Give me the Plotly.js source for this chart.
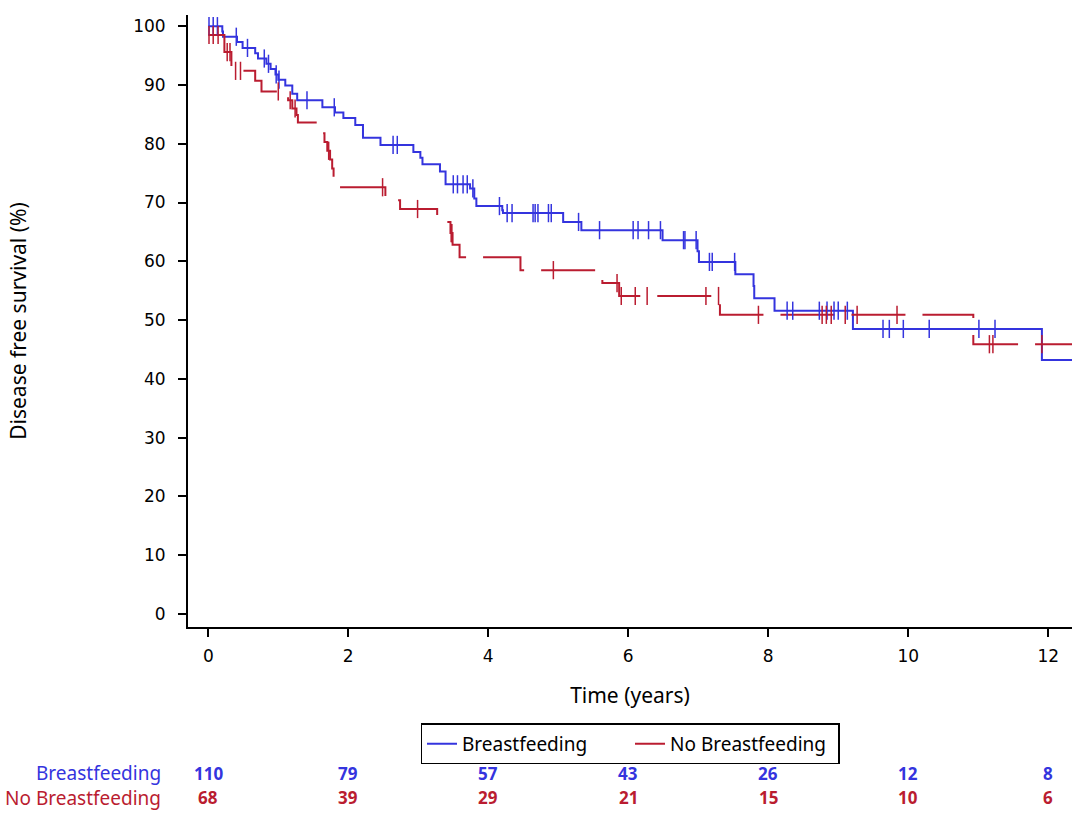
<!DOCTYPE html>
<html>
<head>
<meta charset="utf-8">
<script src="https://cdn.plot.ly/plotly-3.0.1.min.js"></script>
<style>
  html, body { margin: 0; padding: 0; background: #fff; }
  #chart { width: 1080px; height: 840px; }
</style>
</head>
<body>
<div id="chart"></div>
<script>
// Kaplan-Meier steps (time in years, survival in %)
var bfTimes = [0, 0.2, 0.21, 0.41, 0.49, 0.67, 0.71, 0.83, 0.89, 0.96, 1.0, 1.1, 1.2, 1.27, 1.63, 1.81, 1.93, 2.1, 2.21, 2.46, 2.93, 3.03, 3.06, 3.31, 3.39, 3.74, 3.8, 3.83, 4.2, 4.21, 5.07, 5.33, 6.49, 6.99, 7.01, 7.53, 7.79, 7.8, 8.09, 9.21, 11.91, 12.34];
var bfSurv  = [100, 99.1, 98.2, 97.3, 96.3, 95.4, 94.5, 93.6, 92.7, 91.8, 90.9, 89.9, 88.5, 87.4, 86.2, 85.3, 84.4, 83.2, 81.0, 79.8, 78.6, 77.6, 76.5, 75.3, 73.1, 72.4, 70.7, 69.4, 68.7, 68.2, 66.7, 65.3, 63.6, 61.7, 59.9, 57.8, 55.8, 53.7, 51.6, 48.5, 43.2, 43.2];
var bfCensor = [0.01, 0.07, 0.13, 0.4, 0.56, 0.8, 0.86, 0.97, 1.01, 1.41, 1.8, 2.64, 2.7, 3.5, 3.56, 3.64, 3.7, 3.78, 4.16, 4.27, 4.34, 4.64, 4.67, 4.71, 4.86, 4.9, 5.29, 5.59, 6.07, 6.14, 6.29, 6.46, 6.79, 6.81, 6.97, 7.16, 7.2, 7.52, 8.27, 8.35, 8.73, 8.84, 8.94, 9.0, 9.13, 9.64, 9.73, 9.93, 10.3, 11.01, 11.24];

var nbTimes = [0, 0.23, 0.33, 0.67, 0.76, 1.14, 1.2, 1.26, 1.28, 1.6, 1.66, 1.7, 1.74, 1.77, 1.79, 1.85, 2.53, 2.74, 3.27, 3.46, 3.49, 3.59, 4.46, 5.63, 5.87, 7.31, 10.93, 12.34];
var nbSurv  = [98.5, 95.6, 92.4, 90.7, 88.9, 87.4, 86.0, 84.9, 83.6, 81.8, 80.3, 78.8, 77.3, 75.8, 74.3, 72.6, 70.4, 68.9, 66.7, 64.8, 62.8, 60.7, 58.5, 56.3, 54.1, 50.9, 45.9, 45.9];
var nbCensor = [0.01, 0.07, 0.14, 0.27, 0.31, 0.39, 0.46, 1.0, 1.17, 1.24, 1.72, 2.49, 2.99, 3.47, 3.48, 4.93, 5.84, 5.9, 6.1, 6.27, 7.11, 7.29, 7.86, 8.77, 8.83, 8.9, 9.1, 9.27, 9.84, 11.16, 11.21, 11.91];

// numbers at risk
var riskTimes = [0, 2, 4, 6, 8, 10, 12];
var riskBF = [110, 79, 57, 43, 26, 12, 8];
var riskNoBF = [68, 39, 29, 21, 15, 10, 6];

var groupNames = ["Breastfeeding", "No Breastfeeding"];
var blue = "rgb(52,52,222)";
var red = "rgb(186,28,48)";

// survival value of a step curve at time t
function stepAt(times, surv, t) {
  var s = surv[0];
  for (var i = 0; i < times.length; i++) {
    if (times[i] <= t) s = surv[i];
  }
  return s;
}

function censorY(times, surv, cens) {
  return cens.map(function (t) { return stepAt(times, surv, t); });
}

var data = [
  {
    x: bfTimes, y: bfSurv, name: groupNames[0], type: "scatter", mode: "lines",
    line: { shape: "hv", color: blue, width: 2 }
  },
  {
    x: nbTimes, y: nbSurv, name: groupNames[1], type: "scatter", mode: "lines",
    line: { shape: "hv", color: red, width: 2, dash: "54px,17px" }
  },
  {
    x: bfCensor, y: censorY(bfTimes, bfSurv, bfCensor), type: "scatter", mode: "markers",
    showlegend: false, hoverinfo: "skip",
    marker: { symbol: "line-ns-open", size: 13, color: blue, line: { width: 1.5, color: blue } }
  },
  {
    x: nbCensor, y: censorY(nbTimes, nbSurv, nbCensor), type: "scatter", mode: "markers",
    showlegend: false, hoverinfo: "skip",
    marker: { symbol: "line-ns-open", size: 13, color: red, line: { width: 1.5, color: red } }
  }
];

// risk table as annotations under the plot
var annotations = [];
var rowY = [-0.2386, -0.2794];
var rowColors = [blue, red];
[riskBF, riskNoBF].forEach(function (row, r) {
  annotations.push({
    xref: "paper", yref: "paper", x: -0.028, y: rowY[r], xanchor: "right", yanchor: "middle",
    text: groupNames[r], showarrow: false,
    font: { family: "Noto Sans", size: 19, color: rowColors[r] }
  });
  for (var i = 0; i < riskTimes.length; i++) {
    annotations.push({
      xref: "x", yref: "paper", x: riskTimes[i], y: rowY[r], xanchor: "center", yanchor: "middle",
      text: "<b>" + row[i] + "</b>", showarrow: false,
      font: { family: "Noto Sans", size: 17, color: rowColors[r] }
    });
  }
});

var layout = {
  width: 1080,
  height: 840,
  plot_bgcolor: "#fff",
  paper_bgcolor: "#fff",
  margin: { l: 188, r: 8, t: 15, b: 213 },
  font: { family: "DejaVu Sans", color: "#000" },
  xaxis: {
    range: [-0.29, 12.34],
    tickvals: riskTimes,
    ticks: "outside", ticklen: 8, tickwidth: 2, tickcolor: "#000",
    ticklabelstandoff: 5,
    showline: true, linecolor: "#000", linewidth: 2,
    showgrid: false, zeroline: false,
    tickfont: { family: "DejaVu Sans", size: 17 },
    title: { text: "Time (years)", font: { family: "Noto Sans", size: 21 }, standoff: 23 }
  },
  yaxis: {
    range: [-2.2, 101.9],
    dtick: 10,
    ticks: "outside", ticklen: 8, tickwidth: 2, tickcolor: "#000",
    ticklabelstandoff: 9,
    showline: true, linecolor: "#000", linewidth: 2,
    showgrid: false, zeroline: false,
    tickfont: { family: "DejaVu Sans", size: 17 },
    title: { text: "Disease free survival (%)", font: { family: "Noto Sans", size: 21 }, standoff: 101 }
  },
  showlegend: true,
  legend: {
    orientation: "h",
    x: 0.5, xanchor: "center",
    y: -0.191, yanchor: "middle",
    bordercolor: "#000", borderwidth: 1.5,
    font: { family: "Noto Sans", size: 19 },
    entrywidth: 163,
    traceorder: "normal"
  },
  annotations: annotations
};

Plotly.newPlot("chart", data, layout, { displayModeBar: false, staticPlot: true });
</script>
</body>
</html>
